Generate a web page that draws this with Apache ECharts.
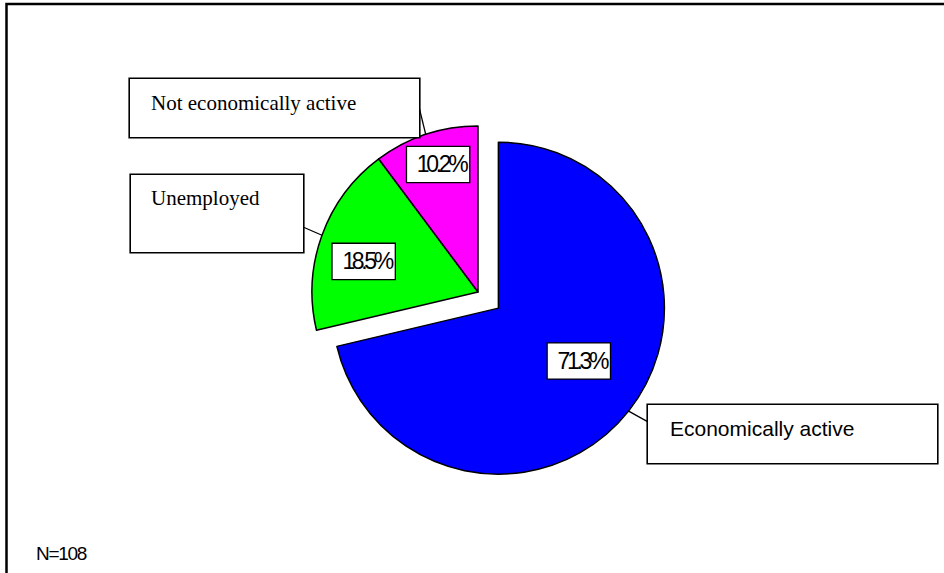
<!DOCTYPE html>
<html>
<head>
<meta charset="utf-8">
<script src="https://cdn.jsdelivr.net/npm/echarts@6/dist/echarts.min.js"></script>
<style>
  html, body { margin: 0; padding: 0; background: #fff; }
  #chart { width: 944px; height: 573px; }
  /* tightly tracked figures for the percentage boxes and the sample note */
  #chart text[style*="Arial Narrow"], #chart text[font-family*="Arial Narrow"] { letter-spacing: -0.145em; }
  #chart text[style*="Arial Condensed"], #chart text[font-family*="Arial Condensed"] { letter-spacing: -0.07em; }
</style>
</head>
<body>
<div id="chart"></div>
<script>
// Labour-market status, percentage shares
const categories = ['Economically active', 'Unemployed', 'Not economically active'];
const shares = [71.3, 18.5, 10.2];
const sampleNote = 'N=108';

// Styling
const sliceColors = ['#0000ff', '#00ff00', '#ff00ff'];
const explodedSlices = [true, false, false];
const pctFont = '"Arial Narrow", "Liberation Sans", Arial, sans-serif';
const noteFont = '"Arial Condensed", "Liberation Sans", Arial, sans-serif';
const nameFonts = [
  '"Liberation Sans", Arial, sans-serif',
  '"Liberation Serif", "Times New Roman", serif',
  '"Liberation Serif", "Times New Roman", serif'
];

const pieCenter = [478, 292];
const pieRadius = 166;
const explodeDistance = 26;
// percent labels: fraction of the radius and small angular nudge (degrees)
const pctRadius = [0.58, 0.713, 0.805];
const pctAngleShift = [-5, -5, 1];
// category name boxes: top-left corner, outer size, padding, leader-line attachment
const nameBoxes = [
  { x: 648, y: 405, w: 289, h: 58, pad: [11, 10, 9, 22], side: 'left', at: 0.29 },
  { x: 131, y: 175, w: 172, h: 77, pad: [11, 10, 8, 20], side: 'right', at: 0.675 },
  { x: 130, y: 79, w: 289, h: 58, pad: [12, 10, 8, 21], side: 'right', at: 0.48 }
];

const total = shares.reduce((a, b) => a + b, 0);
const midAngles = []; // degrees, clockwise from 12 o'clock
let acc = 0;
shares.forEach(v => { midAngles.push((acc + v / 2) / total * 360); acc += v; });

function dirOf(deg) {
  const r = deg * Math.PI / 180;
  return [Math.sin(r), -Math.cos(r)];
}
function centerOf(i) {
  if (!explodedSlices[i]) return pieCenter;
  const d = dirOf(midAngles[i]);
  return [pieCenter[0] + d[0] * explodeDistance, pieCenter[1] + d[1] * explodeDistance];
}

const clear = 'rgba(0,0,0,0)';

// One pie per slice so each slice can sit at its own (exploded) centre.
// kind 'slice' draws the wedge with its percentage box,
// kind 'name' is an invisible twin carrying the category box and leader line.
function pieSeries(i, kind) {
  const c = centerOf(i);
  return {
    type: 'pie',
    name: categories[i] + (kind === 'name' ? ' (name)' : ''),
    center: c,
    radius: pieRadius,
    startAngle: 90,
    clockwise: true,
    animation: false,
    silent: true,
    selectedMode: false,
    avoidLabelOverlap: false,
    emphasis: { disabled: true },
    z: kind === 'name' ? 3 : 2,
    data: categories.map((n, j) => {
      const own = j === i;
      const item = { name: n, value: shares[j] };
      if (kind === 'slice') {
        item.itemStyle = own
          ? { color: sliceColors[j], borderColor: '#000', borderWidth: 1.5 }
          : { color: clear, borderWidth: 0 };
        item.label = own ? {
          show: true,
          position: 'inside',
          formatter: (p) => p.value.toFixed(1) + '%',
          fontFamily: pctFont,
          fontSize: 23,
          color: '#000',
          backgroundColor: '#fff',
          borderColor: '#000',
          borderWidth: 1.3,
          width: 50,
          height: 22,
          lineHeight: 22,
          overflow: 'none',
          padding: [7, 3, 6, 9]
        } : { show: false };
        item.labelLine = { show: false };
      } else {
        const b = nameBoxes[j];
        item.itemStyle = { color: clear, borderWidth: 0 };
        item.label = own ? {
          show: true,
          position: 'outside',
          formatter: '{b}',
          fontFamily: nameFonts[j],
          fontSize: 21,
          color: '#000',
          backgroundColor: '#fff',
          borderColor: '#000',
          borderWidth: 1.6,
          width: b.w - b.pad[1] - b.pad[3],
          height: b.h - b.pad[0] - b.pad[2],
          lineHeight: 24,
          overflow: 'none',
          padding: b.pad
        } : { show: false };
        item.labelLine = own
          ? { show: true, lineStyle: { color: '#000', width: 1.3 } }
          : { show: false };
      }
      return item;
    }),
    labelLayout: (p) => {
      const j = p.dataIndex;
      if (j !== i) return {};
      const cj = centerOf(j);
      if (kind === 'slice') {
        const d = dirOf(midAngles[j] + pctAngleShift[j]);
        const r = pctRadius[j] * pieRadius;
        return { x: cj[0] + d[0] * r, y: cj[1] + d[1] * r, align: 'center', verticalAlign: 'middle' };
      }
      const b = nameBoxes[j];
      const d = dirOf(midAngles[j]);
      const anchor = [cj[0] + d[0] * pieRadius, cj[1] + d[1] * pieRadius];
      const end = [b.side === 'left' ? b.x : b.x + b.w, b.y + b.h * b.at];
      return { x: b.x, y: b.y, align: 'left', verticalAlign: 'top', labelLinePoints: [anchor, end, end] };
    }
  };
}

const series = [];
categories.forEach((_, i) => series.push(pieSeries(i, 'slice')));
categories.forEach((_, i) => series.push(pieSeries(i, 'name')));

const chart = echarts.init(document.getElementById('chart'), null, { renderer: 'svg' });
chart.setOption({
  backgroundColor: '#fff',
  animation: false,
  title: {
    text: sampleNote,
    left: 36,
    top: 544,
    padding: 0,
    textStyle: { fontFamily: noteFont, fontSize: 19, fontWeight: 'normal', color: '#000' }
  },
  graphic: [{
    type: 'rect',
    silent: true,
    z: 0,
    shape: { x: 6.5, y: 4, width: 1000, height: 1000 },
    style: { fill: 'none', stroke: '#000', lineWidth: 2.5 }
  }],
  series: series
});
</script>
</body>
</html>
